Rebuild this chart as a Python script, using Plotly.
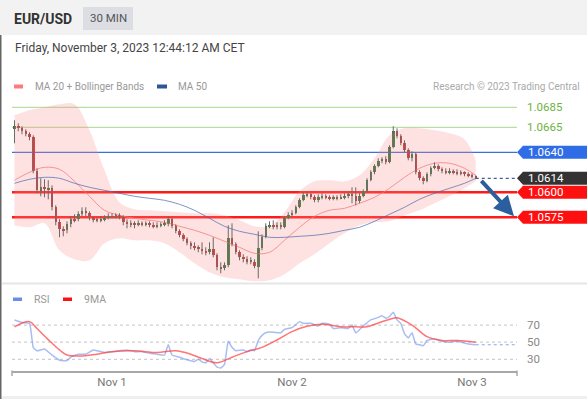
import plotly.graph_objects as go
import pandas as pd

# ---------------- data ----------------
PAIR = "EUR/USD"
TIMEFRAME = "30 MIN"
STAMP = "Friday, November 3, 2023 12:44:12 AM CET"
SOURCE = "Research \u00a9 2023 Trading Central"
FIRST_CANDLE = "2023-10-31 11:00"

opens = [1.0663, 1.0666, 1.0664, 1.0661, 1.0658, 1.0655, 1.0621, 1.0601, 1.0605, 1.0603,
         1.0604, 1.0585, 1.0570, 1.0563, 1.0562, 1.0568, 1.0573, 1.0573, 1.0578, 1.0581,
         1.0579, 1.0574, 1.0573, 1.0572, 1.0573, 1.0574, 1.0576, 1.0575, 1.0577, 1.0575,
         1.0570, 1.0568, 1.0569, 1.0567, 1.0569, 1.0568, 1.0569, 1.0567, 1.0566, 1.0567,
         1.0568, 1.0568, 1.0573, 1.0566, 1.0561, 1.0557, 1.0553, 1.0549, 1.0546, 1.0545,
         1.0543, 1.0541, 1.0540, 1.0543, 1.0537, 1.0525, 1.0524, 1.0527, 1.0554, 1.0548,
         1.0540, 1.0535, 1.0533, 1.0530, 1.0530, 1.0525, 1.0544, 1.0555, 1.0566, 1.0567,
         1.0566, 1.0567, 1.0565, 1.0574, 1.0577, 1.0579, 1.0585, 1.0592, 1.0597, 1.0598,
         1.0595, 1.0592, 1.0595, 1.0596, 1.0595, 1.0594, 1.0595, 1.0594, 1.0595, 1.0596,
         1.0598, 1.0596, 1.0591, 1.0596, 1.0601, 1.0612, 1.0620, 1.0626, 1.0631, 1.0633,
         1.0630, 1.0645, 1.0661, 1.0656, 1.0649, 1.0642, 1.0634, 1.0638, 1.0620, 1.0614,
         1.0611, 1.0618, 1.0624, 1.0626, 1.0623, 1.0621, 1.0620, 1.0621, 1.0620, 1.0619,
         1.0620, 1.0618, 1.0617, 1.0616]
highs = [1.0672, 1.0669, 1.0666, 1.0663, 1.0660, 1.0657, 1.0624, 1.0614, 1.0613, 1.0612,
         1.0607, 1.0587, 1.0573, 1.0566, 1.0571, 1.0576, 1.0578, 1.0581, 1.0585, 1.0585,
         1.0581, 1.0576, 1.0575, 1.0576, 1.0577, 1.0579, 1.0579, 1.0579, 1.0579, 1.0577,
         1.0573, 1.0572, 1.0571, 1.0572, 1.0571, 1.0571, 1.0571, 1.0570, 1.0570, 1.0570,
         1.0572, 1.0576, 1.0575, 1.0568, 1.0563, 1.0559, 1.0555, 1.0551, 1.0550, 1.0547,
         1.0550, 1.0545, 1.0550, 1.0555, 1.0539, 1.0530, 1.0530, 1.0567, 1.0569, 1.0550,
         1.0542, 1.0538, 1.0536, 1.0535, 1.0533, 1.0561, 1.0558, 1.0569, 1.0571, 1.0572,
         1.0570, 1.0570, 1.0576, 1.0580, 1.0582, 1.0587, 1.0594, 1.0600, 1.0601, 1.0599,
         1.0597, 1.0598, 1.0599, 1.0598, 1.0597, 1.0597, 1.0597, 1.0598, 1.0599, 1.0600,
         1.0605, 1.0605, 1.0599, 1.0603, 1.0614, 1.0622, 1.0628, 1.0634, 1.0635, 1.0636,
         1.0647, 1.0666, 1.0664, 1.0658, 1.0652, 1.0644, 1.0641, 1.0640, 1.0622, 1.0616,
         1.0620, 1.0626, 1.0630, 1.0628, 1.0625, 1.0624, 1.0624, 1.0623, 1.0623, 1.0622,
         1.0621, 1.0620, 1.0619, 1.0617]
lows = [1.0649, 1.0661, 1.0658, 1.0656, 1.0652, 1.0619, 1.0599, 1.0596, 1.0595, 1.0593,
        1.0582, 1.0567, 1.0555, 1.0556, 1.0559, 1.0565, 1.0570, 1.0571, 1.0576, 1.0576,
        1.0572, 1.0570, 1.0570, 1.0570, 1.0571, 1.0573, 1.0574, 1.0574, 1.0573, 1.0567,
        1.0564, 1.0565, 1.0564, 1.0566, 1.0566, 1.0566, 1.0565, 1.0564, 1.0564, 1.0565,
        1.0566, 1.0566, 1.0564, 1.0559, 1.0555, 1.0551, 1.0547, 1.0543, 1.0542, 1.0540,
        1.0538, 1.0537, 1.0538, 1.0535, 1.0522, 1.0519, 1.0522, 1.0525, 1.0546, 1.0538,
        1.0532, 1.0530, 1.0528, 1.0528, 1.0524, 1.0514, 1.0542, 1.0554, 1.0564, 1.0563,
        1.0563, 1.0563, 1.0564, 1.0573, 1.0576, 1.0578, 1.0584, 1.0591, 1.0595, 1.0593,
        1.0590, 1.0590, 1.0593, 1.0593, 1.0592, 1.0592, 1.0592, 1.0593, 1.0593, 1.0594,
        1.0589, 1.0587, 1.0589, 1.0595, 1.0600, 1.0611, 1.0618, 1.0625, 1.0629, 1.0628,
        1.0629, 1.0644, 1.0654, 1.0647, 1.0640, 1.0632, 1.0631, 1.0618, 1.0612, 1.0608,
        1.0610, 1.0616, 1.0623, 1.0621, 1.0619, 1.0618, 1.0618, 1.0618, 1.0617, 1.0617,
        1.0616, 1.0615, 1.0614, 1.0613]
closes = [1.0666, 1.0664, 1.0661, 1.0658, 1.0655, 1.0621, 1.0602, 1.0605, 1.0603, 1.0604,
          1.0585, 1.0570, 1.0563, 1.0561, 1.0568, 1.0573, 1.0572, 1.0578, 1.0581, 1.0579,
          1.0574, 1.0573, 1.0572, 1.0573, 1.0574, 1.0576, 1.0575, 1.0577, 1.0575, 1.0570,
          1.0568, 1.0569, 1.0567, 1.0569, 1.0568, 1.0569, 1.0567, 1.0566, 1.0567, 1.0568,
          1.0569, 1.0573, 1.0566, 1.0561, 1.0557, 1.0553, 1.0549, 1.0546, 1.0545, 1.0543,
          1.0541, 1.0540, 1.0543, 1.0537, 1.0525, 1.0523, 1.0527, 1.0554, 1.0548, 1.0540,
          1.0535, 1.0533, 1.0530, 1.0532, 1.0526, 1.0544, 1.0555, 1.0566, 1.0567, 1.0566,
          1.0567, 1.0565, 1.0574, 1.0577, 1.0579, 1.0585, 1.0592, 1.0597, 1.0598, 1.0595,
          1.0592, 1.0595, 1.0596, 1.0595, 1.0594, 1.0595, 1.0594, 1.0595, 1.0596, 1.0598,
          1.0596, 1.0591, 1.0596, 1.0601, 1.0612, 1.0620, 1.0626, 1.0631, 1.0633, 1.0630,
          1.0645, 1.0661, 1.0656, 1.0649, 1.0642, 1.0634, 1.0638, 1.0620, 1.0614, 1.0611,
          1.0618, 1.0624, 1.0626, 1.0623, 1.0621, 1.0620, 1.0621, 1.0620, 1.0619, 1.0620,
          1.0618, 1.0617, 1.0616, 1.0614]

# moving averages / bands, sampled at these candle indices
ind_idx = [0, 4, 8, 12, 16, 20, 24, 28, 32, 36, 40, 44, 48, 52, 56, 60,
           64, 68, 72, 76, 80, 84, 88, 92, 96, 100, 104, 108, 112, 116, 120, 123]
bb_upper = [1.0677, 1.0682, 1.0685, 1.0688, 1.0688, 1.0662, 1.0622, 1.0590, 1.0583, 1.0582,
            1.0581, 1.0580, 1.0579, 1.0579, 1.0577, 1.0572, 1.0566, 1.0566, 1.0580, 1.0601,
            1.0611, 1.0612, 1.0611, 1.0617, 1.0634, 1.0657, 1.0664, 1.0664, 1.0662, 1.0659,
            1.0653, 1.0632]
bb_lower = [1.0567, 1.0565, 1.0569, 1.0542, 1.0533, 1.0532, 1.0549, 1.0554, 1.0552, 1.0552,
            1.0549, 1.0540, 1.0529, 1.0520, 1.0515, 1.0513, 1.0511, 1.0512, 1.0518, 1.0529,
            1.0538, 1.0549, 1.0559, 1.0567, 1.0570, 1.0571, 1.0577, 1.0582, 1.0589, 1.0596,
            1.0604, 1.0611]
ma20 = [1.0612, 1.0620, 1.0625, 1.0623, 1.0611, 1.0596, 1.0582, 1.0577, 1.0574, 1.0572,
        1.0570, 1.0566, 1.0562, 1.0557, 1.0551, 1.0545, 1.0539, 1.0540, 1.0552, 1.0565,
        1.0576, 1.0582, 1.0584, 1.0589, 1.0595, 1.0604, 1.0615, 1.0624, 1.0629, 1.0629,
        1.0624, 1.0617]
ma50 = [1.0609, 1.0613, 1.0615, 1.0614, 1.0609, 1.0605, 1.0602, 1.0599, 1.0596, 1.0594,
        1.0592, 1.0588, 1.0582, 1.0574, 1.0566, 1.0561, 1.0558, 1.0555, 1.0555, 1.0556,
        1.0557, 1.0559, 1.0562, 1.0565, 1.0571, 1.0578, 1.0585, 1.0593, 1.0599, 1.0604,
        1.0609, 1.0614]

# RSI and its 9-period MA (candle index, value)
rsi_idx = [0, 2, 4, 5, 6, 8, 10, 12, 14, 15, 17, 19, 21, 22, 24, 26, 28, 30, 32, 34,
           36, 38, 40, 41, 42, 44, 46, 48, 49, 50, 51, 52, 53, 54, 55, 56, 57, 58, 59, 61,
           62, 63, 64, 65, 66, 67, 68, 71, 72, 74, 76, 77, 79, 81, 82, 84, 85, 87, 89, 90,
           91, 93, 95, 97, 98, 99, 100, 101, 102, 103, 104, 105, 106, 107, 108, 109, 110, 112, 114, 116,
           118, 120, 121, 123]
rsi_val = [76, 73, 72, 44, 40, 42, 35, 29, 28.5, 32.5, 36, 36, 41, 40, 38, 39, 40, 41, 39, 39,
           37, 36, 35, 47, 35, 32.5, 29.5, 27.5, 30, 27, 26, 31, 26, 21, 20, 24, 51, 44, 40, 41,
           39, 41, 40, 52, 58, 61, 62, 61, 65, 67, 74, 72, 72, 69, 72, 71, 66, 67, 66, 70,
           61, 69, 76, 79, 81, 78, 80, 85, 76, 72, 60, 55, 61, 48, 47, 46, 52, 54, 51, 50,
           51, 49, 48, 47]
ma9_idx = [0, 4, 6, 9, 12, 14, 18, 22, 26, 32, 38, 43, 47, 50, 54, 58, 62, 66, 70, 74,
           78, 82, 87, 91, 94, 97, 101, 102, 106, 110, 114, 118, 123]
ma9_val = [68, 74, 66, 53, 41, 35, 34, 36, 39, 40, 38, 40, 36, 31, 26, 32.5, 39, 44, 52.6, 62.4,
           68.5, 71, 68, 68, 68, 72.5, 78, 78.5, 70, 56.5, 52, 52, 50]
rsi_levels = [70, 50, 30]

# key levels
resist_levels = [1.0685, 1.0665]
pivot_level = 1.0640
support_levels = [1.0600, 1.0575]
last_price = 1.0614
target_price = 1.0575

xtick_vals = ["2023-11-01", "2023-11-02", "2023-11-03"]
xtick_text = ["Nov 1", "Nov 2", "Nov 3"]

# ---------------- layout helpers ----------------
W, H = 587, 399
FONT = "Roboto, Arial, sans-serif"


def px(xp):
    return xp / W


def py(yp):
    return 1 - yp / H


times = pd.date_range(FIRST_CANDLE, periods=len(closes), freq="30min")
X0 = pd.Timestamp("2023-10-31 10:40")
X1 = pd.Timestamp("2023-11-03 06:00")

# price axis calibration (pixel rows)
P_REF, P_REF_PX, PX_PER_UNIT = 1.0685, 107.3, 10000.0
MAIN_TOP, MAIN_BOT = 35, 284
price_hi = P_REF + (P_REF_PX - MAIN_TOP) / PX_PER_UNIT
price_lo = P_REF - (MAIN_BOT - P_REF_PX) / PX_PER_UNIT
# RSI calibration
R_REF_PX, R_PX_PER = 342.2, 0.857
RSI_TOP, RSI_BOT = 290, 370.5
rsi_hi = 50 + (R_REF_PX - RSI_TOP) / R_PX_PER
rsi_lo = 50 - (RSI_BOT - R_REF_PX) / R_PX_PER

fig = go.Figure()

# Bollinger band
ind_t = [times[i] for i in ind_idx]
fig.add_trace(go.Scatter(x=ind_t, y=bb_lower, mode="lines", line=dict(width=0, shape="spline"),
                         hoverinfo="skip", showlegend=False))
fig.add_trace(go.Scatter(x=ind_t, y=bb_upper, mode="lines", line=dict(width=0, shape="spline"),
                         fill="tonexty", fillcolor="rgba(250,140,140,0.26)",
                         hoverinfo="skip", showlegend=False))
fig.add_trace(go.Scatter(x=ind_t, y=ma20, mode="lines",
                         line=dict(width=1, color="rgba(245,120,120,0.75)", shape="spline"),
                         showlegend=False))
fig.add_trace(go.Scatter(x=ind_t, y=ma50, mode="lines",
                         line=dict(width=1, color="rgba(70,105,180,0.7)", shape="spline"),
                         showlegend=False))

# candle wicks
wx, wy = [], []
for t, h, l in zip(times, highs, lows):
    wx += [t, t, None]
    wy += [l, h, None]
fig.add_trace(go.Scatter(x=wx, y=wy, mode="lines", line=dict(width=1, color="#6a6a6a"),
                         hoverinfo="skip", showlegend=False))
# candle bodies
base = [min(o, c) for o, c in zip(opens, closes)]
height = [max(abs(c - o), 0.00008) for o, c in zip(opens, closes)]
cols = ["#2e7d32" if c >= o else "#e22525" for o, c in zip(opens, closes)]
fig.add_trace(go.Bar(x=times, y=height, base=base, width=20 * 60 * 1000,
                     marker=dict(color=cols, line=dict(width=0)), showlegend=False))

# RSI panel
fig.add_trace(go.Scatter(x=[times[i] for i in rsi_idx], y=rsi_val, mode="lines", yaxis="y2",
                         line=dict(width=1.5, color="rgba(110,145,235,0.6)", shape="spline", smoothing=0.4),
                         showlegend=False))
fig.add_trace(go.Scatter(x=[times[i] for i in ma9_idx], y=ma9_val, mode="lines", yaxis="y2",
                         line=dict(width=1.5, color="rgba(255,70,70,0.75)", shape="spline"),
                         showlegend=False))
fig.add_trace(go.Scatter(x=[times[-1], X1], y=[rsi_val[-1], rsi_val[-1]], mode="lines", yaxis="y2",
                         line=dict(width=1.2, color="rgba(110,145,235,0.8)", dash="dot"),
                         showlegend=False))

shapes = []
annotations = []

# header band
shapes.append(dict(type="rect", xref="paper", yref="paper", x0=0, x1=1, y0=py(35), y1=1,
                   fillcolor="#f2f2f2", line=dict(width=0), layer="below"))
shapes.append(dict(type="rect", xref="paper", yref="paper", x0=px(83), x1=px(133), y0=py(30), y1=py(7),
                   fillcolor="#dcdee3", line=dict(width=0)))
annotations.append(dict(text=PAIR, xref="paper", yref="paper", x=px(12), y=py(19), xanchor="left",
                        yanchor="middle", showarrow=False,
                        font=dict(family=FONT, size=14, color="#333333", weight="bold")))
annotations.append(dict(text=TIMEFRAME, xref="paper", yref="paper", x=px(108), y=py(18.5), xanchor="center",
                        yanchor="middle", showarrow=False, font=dict(family=FONT, size=11.5, color="#555555")))
annotations.append(dict(text=STAMP, xref="paper", yref="paper", x=px(13), y=py(48.5), xanchor="left",
                        yanchor="middle", showarrow=False, font=dict(family=FONT, size=12, color="#444444")))

# borders / separators
shapes.append(dict(type="line", xref="paper", yref="paper", x0=px(0.75), x1=px(0.75), y0=0, y1=py(35),
                   line=dict(color="#666666", width=1.5)))
shapes.append(dict(type="line", xref="paper", yref="paper", x0=px(2), x1=1, y0=py(283.5), y1=py(283.5),
                   line=dict(color="#e6e6e6", width=2)))
shapes.append(dict(type="rect", xref="paper", yref="paper", x0=px(2), x1=1, y0=0, y1=py(396),
                   fillcolor="#efefef", line=dict(width=0)))

# main legend
shapes.append(dict(type="rect", xref="paper", yref="paper", x0=px(14), x1=px(23), y0=py(88.5), y1=py(84.5),
                   fillcolor="#ff7b7b", line=dict(width=0)))
annotations.append(dict(text="MA 20 + Bollinger Bands", xref="paper", yref="paper", x=px(32.5), y=py(86.5),
                        xanchor="left", yanchor="middle", showarrow=False,
                        font=dict(family=FONT, size=10, color="#999999")))
shapes.append(dict(type="rect", xref="paper", yref="paper", x0=px(157), x1=px(167), y0=py(88.5), y1=py(84.5),
                   fillcolor="#2e5596", line=dict(width=0)))
annotations.append(dict(text="MA 50", xref="paper", yref="paper", x=px(175.5), y=py(86.5),
                        xanchor="left", yanchor="middle", showarrow=False,
                        font=dict(family=FONT, size=10, color="#999999")))
annotations.append(dict(text=SOURCE, xref="paper", yref="paper", x=px(582), y=py(86),
                        xanchor="right", yanchor="middle", showarrow=False,
                        font=dict(family=FONT, size=10, color="#aaaaaa")))

# level lines
LX0, LX1 = px(12), px(517)
for lv in resist_levels:
    shapes.append(dict(type="line", xref="paper", yref="y", x0=LX0, x1=LX1, y0=lv, y1=lv,
                       line=dict(color="#a9d58c", width=1), layer="below"))
    annotations.append(dict(text=f"{lv:.4f}", xref="paper", yref="y", x=px(525), y=lv, xanchor="left",
                            yanchor="middle", showarrow=False,
                            font=dict(family=FONT, size=11.5, color="#6cb33f")))
shapes.append(dict(type="line", xref="paper", yref="y", x0=LX0, x1=LX1, y0=pivot_level, y1=pivot_level,
                   line=dict(color="#3d6fdc", width=1.3), layer="below"))
for lv in support_levels:
    shapes.append(dict(type="line", xref="paper", yref="y", x0=LX0, x1=LX1, y0=lv, y1=lv,
                       line=dict(color="#ff1a1a", width=2.6), layer="below"))
# dotted last-price line
shapes.append(dict(type="line", xref="x", yref="y", x0=times[-1], x1=X1, y0=last_price, y1=last_price,
                   line=dict(color="#3f5f8f", width=1.3, dash="dot")))

# price tags
half = 6.5 / PX_PER_UNIT
tags = [(pivot_level, "#2f6de6"), (last_price, "#333333")] + [(lv, "#ff1010") for lv in support_levels]
for lv, col in tags:
    path = (f"M {px(517)},{lv} L {px(523)},{lv + half} L {px(587)},{lv + half} "
            f"L {px(587)},{lv - half} L {px(523)},{lv - half} Z")
    shapes.append(dict(type="path", xref="paper", yref="y", path=path, fillcolor=col, line=dict(width=0)))
    annotations.append(dict(text=f"{lv:.4f}", xref="paper", yref="y", x=px(525.5), y=lv, xanchor="left",
                            yanchor="middle", showarrow=False,
                            font=dict(family=FONT, size=11.5, color="#ffffff")))

# forecast arrow
annotations.append(dict(x="2023-11-03 05:36", y=target_price + 0.0001, xref="x", yref="y",
                        ax="2023-11-03 01:04", ay=last_price - 0.0001, axref="x", ayref="y",
                        text="", showarrow=True, arrowhead=2, arrowsize=1, arrowwidth=4,
                        arrowcolor="#2c5d9c", standoff=0, startstandoff=0))

# RSI legend + grid
shapes.append(dict(type="rect", xref="paper", yref="paper", x0=px(13), x1=px(22), y0=py(301), y1=py(297.5),
                   fillcolor="#6a8ee8", line=dict(width=0)))
annotations.append(dict(text="RSI", xref="paper", yref="paper", x=px(32), y=py(299.5),
                        xanchor="left", yanchor="middle", showarrow=False,
                        font=dict(family=FONT, size=10.5, color="#999999")))
shapes.append(dict(type="rect", xref="paper", yref="paper", x0=px(63), x1=px(72), y0=py(301), y1=py(297.5),
                   fillcolor="#ff1010", line=dict(width=0)))
annotations.append(dict(text="9MA", xref="paper", yref="paper", x=px(82), y=py(299.5),
                        xanchor="left", yanchor="middle", showarrow=False,
                        font=dict(family=FONT, size=10.5, color="#999999")))
for lv in rsi_levels:
    shapes.append(dict(type="line", xref="paper", yref="y2", x0=LX0, x1=LX1, y0=lv, y1=lv,
                       line=dict(color="#cfcfcf", width=1.3, dash="dot"), layer="below"))
    annotations.append(dict(text=str(lv), xref="paper", yref="y2", x=px(525), y=lv, xanchor="left",
                            yanchor="middle", showarrow=False,
                            font=dict(family=FONT, size=11.5, color="#888888")))
# axis end brackets
for xe in (12, 517):
    shapes.append(dict(type="line", xref="paper", yref="paper", x0=px(xe), x1=px(xe), y0=py(RSI_BOT),
                       y1=py(RSI_BOT + 5.5), line=dict(color="#a8a8a8", width=1.5)))

fig.update_layout(
    width=W, height=H,
    margin=dict(l=0, r=0, t=0, b=0),
    paper_bgcolor="#ffffff", plot_bgcolor="rgba(0,0,0,0)",
    showlegend=False, bargap=0,
    font=dict(family=FONT),
    xaxis=dict(domain=[px(12), px(517)], range=[X0, X1], type="date", anchor="y2",
               showline=True, linecolor="#a8a8a8", linewidth=1.5, showgrid=False, zeroline=False,
               tickvals=xtick_vals, ticktext=xtick_text, ticks="",
               tickfont=dict(family=FONT, size=11.5, color="#777777"), fixedrange=True),
    yaxis=dict(domain=[py(MAIN_BOT), py(MAIN_TOP)], range=[price_lo, price_hi], visible=False,
               anchor="x", fixedrange=True),
    yaxis2=dict(domain=[py(RSI_BOT), py(RSI_TOP)], range=[rsi_lo, rsi_hi], visible=False,
                anchor="x", fixedrange=True),
    shapes=shapes, annotations=annotations,
)

fig.write_html(
    "out.html",
    config={"displayModeBar": False},
    post_script="document.body.style.margin='0';document.body.style.padding='0';"
                "document.documentElement.style.overflow='hidden';",
)
